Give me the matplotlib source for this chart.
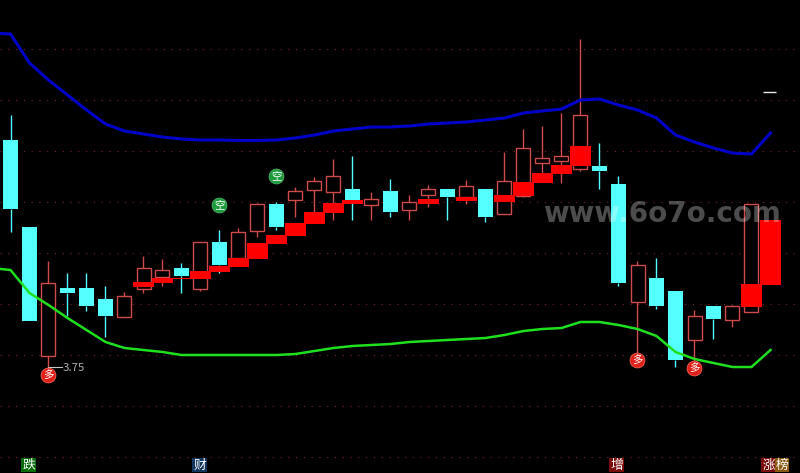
import matplotlib
matplotlib.use('Agg')
import matplotlib.pyplot as plt

plt.rcParams['font.family'] = ['Noto Sans CJK SC', 'DejaVu Sans']

# candles (screen scale, small = high)
idx = list(range(40))
high = [115, 227, 261, 273, 273, 286, 292, 256, 259, 263, 242, 230, 228, 203, 202, 187, 177, 159, 156, 192,
        179, 195, 185, 189, 180, 189, 152, 129, 126, 113, 39, 143, 176, 261, 258, 291, 310, 306, 305, 204]
top = [140, 227, 283, 288, 288, 299, 296, 268, 270, 268, 242, 242, 232, 204, 204, 191, 181, 176, 189, 199,
       191, 202, 189, 189, 186, 189, 181, 148, 158, 156, 115, 166, 184, 265, 278, 291, 316, 306, 306, 204]
bottom = [209, 321, 356, 293, 306, 316, 317, 289, 277, 276, 289, 265, 258, 231, 227, 200, 190, 192, 200, 205,
          212, 210, 195, 197, 197, 217, 214, 196, 163, 161, 169, 171, 283, 302, 306, 360, 340, 319, 320, 312]
low = [232, 321, 368, 316, 311, 337, 317, 293, 286, 293, 291, 273, 258, 237, 230, 217, 212, 220, 220, 220,
       217, 220, 207, 220, 204, 222, 214, 197, 173, 183, 171, 189, 286, 357, 309, 367, 363, 339, 327, 312]
kind = ['d', 'd', 'u', 'd', 'd', 'd', 'u', 'u', 'u', 'd', 'u', 'd', 'u', 'u', 'd', 'u', 'u', 'u', 'd', 'u',
        'd', 'u', 'u', 'd', 'u', 'd', 'u', 'u', 'u', 'u', 'u', 'd', 'd', 'u', 'd', 'd', 'u', 'd', 'u', 'u']

# solid red blocks
block_idx = [7, 8, 9, 10, 11, 12, 13, 14, 15, 16, 17, 18, 22, 24, 26, 27, 28, 29, 30, 39, 40]
block_top = [282, 278, 278, 271, 266, 258, 243, 235, 223, 212, 203, 200, 199, 197, 195, 182, 173, 165, 146, 284, 220]
block_bot = [287, 283, 279, 279, 272, 267, 259, 244, 236, 224, 213, 204, 204, 201, 202, 196, 183, 174, 166, 307, 285]

# channel lines
line_idx = list(range(-1, 41))
blue = [33, 34, 63, 80, 95, 110, 124, 131, 134, 137, 139, 140, 140, 140.5, 140.5, 140, 138, 135, 131, 129, 127,
        127, 126, 124, 123, 122, 120, 118, 113, 111, 109, 100, 99, 105, 110, 118, 135, 142, 148, 153, 154, 133]
green = [268, 270, 293, 305, 318, 330, 342, 348, 350, 352, 355, 355, 355, 355, 355, 355, 354, 351, 348, 346, 345,
         344, 342, 341, 340, 339, 338, 335, 331, 329, 328, 322, 322, 325, 329, 336, 352, 359, 363, 367, 367, 350]

grid_levels = [49, 100, 151, 202, 253, 304, 355, 406, 457]

buy_idx = [2, 33, 36]
buy_y = [375, 360, 368]
sell_idx = [11, 14]
sell_y = [205, 176]

tags = ['跌', '财', '增', '涨', '榜']
tag_idx = [0.95, 9.95, 31.9, 39.9, 40.6]
tag_colors = ['#0b6b0b', '#12365e', '#7a0c0c', '#7a0c0c', '#8a5a12']

CYAN = '#54FFFF'
RED = '#FF0000'
OUTLINE = '#CF4B4B'
STEP = 19.0
X0 = 10.5

fig = plt.figure(figsize=(8, 4.73), dpi=100, facecolor='black')
ax = fig.add_axes([0, 0, 1, 1])
ax.set_facecolor('black')
ax.set_xlim(-X0 / STEP, (800 - X0) / STEP)
ax.set_ylim(473, 0)
ax.axis('off')

for lvl in grid_levels:
    ax.axhline(lvl, color='#7a2424', lw=0.8, ls=(0, (1, 6)), zorder=1)

for i, h, t, b, l, k in zip(idx, high, top, bottom, low, kind):
    col = CYAN if k == 'd' else OUTLINE
    ax.vlines(i, h, t, color=col, lw=1.0, zorder=2)
    ax.vlines(i, b, l, color=col, lw=1.0, zorder=2)
    if k == 'd':
        ax.bar(i, b - t, bottom=t, width=15 / STEP, color=CYAN, lw=0, zorder=3)
    else:
        ax.bar(i, b - t, bottom=t, width=14 / STEP, facecolor='black', edgecolor=OUTLINE, lw=1.0, zorder=3)

for i, t, b in zip(block_idx, block_top, block_bot):
    w = 17 if i == 9 else 21
    ax.bar(i, b - t, bottom=t, width=w / STEP, color=RED, lw=0, zorder=4)

ax.plot(line_idx, blue, color='#0000C8', lw=2.2, zorder=5)
ax.plot(line_idx, green, color='#1FE01F', lw=1.8, zorder=5)

# low price note
ax.plot([2, 2.7], [367, 367], color='#c8c8c8', lw=0.8, zorder=6)
ax.text(2.72, 368, '3.75', color='#b0b0b0', fontsize=8.2, va='center', ha='left', zorder=6)

ax.scatter(buy_idx, buy_y, s=115, color='#E0201A', edgecolors='#ff7060', linewidths=0.5, zorder=7)
for i, y in zip(buy_idx, buy_y):
    ax.text(i, y, '多', color='white', fontsize=7.5, ha='center', va='center', zorder=8)
ax.scatter(sell_idx, sell_y, s=115, color='#1E9A3C', edgecolors='#50c070', linewidths=0.5, zorder=7)
for i, y in zip(sell_idx, sell_y):
    ax.text(i, y, '空', color='white', fontsize=7.5, ha='center', va='center', zorder=8)

# little dash top right
ax.hlines(92, 39.6, 40.3, color='#e8e8e8', lw=1.0, zorder=6)

for s, i, c in zip(tags, tag_idx, tag_colors):
    ax.text(i, 465, s, color='white', fontsize=9.2, ha='center', va='center', zorder=6,
            bbox=dict(facecolor=c, edgecolor='none', pad=0.6))

ax.text(28.05, 214, 'www.6o7o.com', color='white', alpha=0.3, fontsize=20.0, fontweight='bold',
        family='DejaVu Sans', ha='left', va='center', zorder=9)

fig.savefig('out.png', dpi=100, facecolor='black')
